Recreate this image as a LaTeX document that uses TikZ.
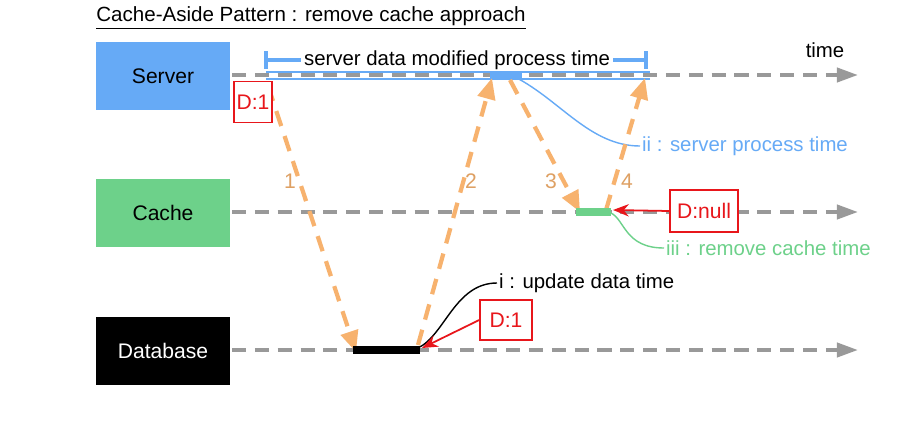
\documentclass[tikz,border=0pt]{standalone}
\usepackage{fontspec}
\setmainfont{Liberation Sans}
\usetikzlibrary{arrows.meta}
\definecolor{sblue}{HTML}{66AAF6}
\definecolor{cgreen}{HTML}{6DD18A}
\definecolor{org}{HTML}{F7B26E}
\definecolor{gr}{HTML}{999999}
\definecolor{rd}{HTML}{E8161B}
\begin{document}
\begin{tikzpicture}[x=0.02cm,y=-0.02cm,
  lane/.style={gr,line width=2.2pt,dash pattern=on 8pt off 5pt,-{Triangle[length=12pt,width=8pt]}},
  ent/.style={minimum width=2.68cm,minimum height=1.36cm,inner sep=0pt,font=\fontsize{12}{14}\selectfont},
  oarr/.style={org,line width=2.4pt,dash pattern=on 9pt off 6pt,-{Triangle[length=12pt,width=10pt]}},
  rbox/.style={draw=rd,fill=white,text=rd,line width=0.9pt,inner sep=1pt,font=\fontsize{12}{14}\selectfont},
  rarr/.style={rd,line width=1pt,-{Stealth[length=9pt,width=7pt]}},
  lab/.style={font=\fontsize{11.6}{14}\selectfont,inner sep=1pt},
  num/.style={org!90!black,font=\fontsize{12}{14}\selectfont}]
\useasboundingbox[fill=white] (0,0) rectangle (920,430);
\node[anchor=west,font=\fontsize{11.7}{14}\selectfont,inner sep=0pt] (title) at (96,18) {\underline{Cache-Aside Pattern : remove cache approach}};
\node[ent,fill=sblue] (srv) at (163,76) {Server};
\node[ent,fill=cgreen] (cch) at (163,213) {Cache};
\node[ent,fill=black,text=white] (db) at (163,351) {Database};
\coordinate (s0) at (232,75); \coordinate (s1) at (858,75);
\coordinate (c0) at (232,212); \coordinate (c1) at (858,212);
\coordinate (d0) at (232,350); \coordinate (d1) at (858,350);
\draw[lane] (s0) -- (s1);
\draw[lane] (c0) -- (c1);
\draw[lane] (d0) -- (d1);
\node[lab] (time) at (825,50) {time};
% bracket
\coordinate (b0) at (266,60); \coordinate (b1) at (646,60);
\draw[sblue,line width=2.5pt] (b0) -- (b1);
\draw[sblue,line width=2.5pt] (266,51) -- (266,69);
\draw[sblue,line width=2.5pt] (646,51) -- (646,69);
\node[lab,fill=white,inner sep=2pt] (bt) at (457,60) {server data modified process time};
\draw[sblue,line width=0.6pt] (266,72) -- (650,72) (266,79) -- (650,79);
\draw[sblue,line width=4pt] (490,75) -- (522,75);
\coordinate (sp) at (515,77);
\node[lab,anchor=west,text=sblue] (ii) at (640,146) {ii : server process time};
\draw[sblue,line width=0.8pt] (sp) .. controls (560,100) and (590,146) .. (ii.west);
% arrows
\coordinate (a1s) at (268,86); \coordinate (a1e) at (356,352);
\coordinate (a2s) at (418,345); \coordinate (a2e) at (492,78);
\coordinate (a3s) at (510,80); \coordinate (a3e) at (580,212);
\coordinate (a4s) at (606,210); \coordinate (a4e) at (645,78);
\draw[oarr] (a1s) -- (a1e);
\draw[oarr] (a2s) -- (a2e);
\draw[oarr] (a3s) -- (a3e);
\draw[oarr] (a4s) -- (a4e);
\node[num] (n1) at (290,181) {1};
\node[num] (n2) at (471,181) {2};
\node[num] (n3) at (551,181) {3};
\node[num] (n4) at (627,181) {4};
\node[rbox,minimum width=0.76cm,minimum height=0.82cm] (dsrv) at (253,102) {D:1};
% cache
\draw[cgreen,line width=4pt] (576,212) -- (611,212);
\coordinate (cp) at (611,213);
\node[lab,anchor=west,text=cgreen] (iii) at (664,248) {iii : remove cache time};
\draw[cgreen,line width=0.8pt] (cp) .. controls (625,220) and (625,248) .. (iii.west);
\node[rbox,minimum width=1.36cm,minimum height=0.84cm] (dnull) at (704,211) {D:null};
\draw[rarr] (dnull.west) -- (613,210);
% db
\draw[black,line width=4pt] (353,350) -- (420,350);
\coordinate (dp) at (418,348);
\node[lab,anchor=west] (i) at (497,283) {i : update data time};
\draw[black,line width=0.8pt] (dp) .. controls (445,335) and (455,283) .. (i.west);
\node[rbox,minimum width=1.04cm,minimum height=0.8cm] (ddb) at (506,320) {D:1};
\draw[rarr] (ddb.west) -- (422,348);
\end{tikzpicture}
\end{document}
